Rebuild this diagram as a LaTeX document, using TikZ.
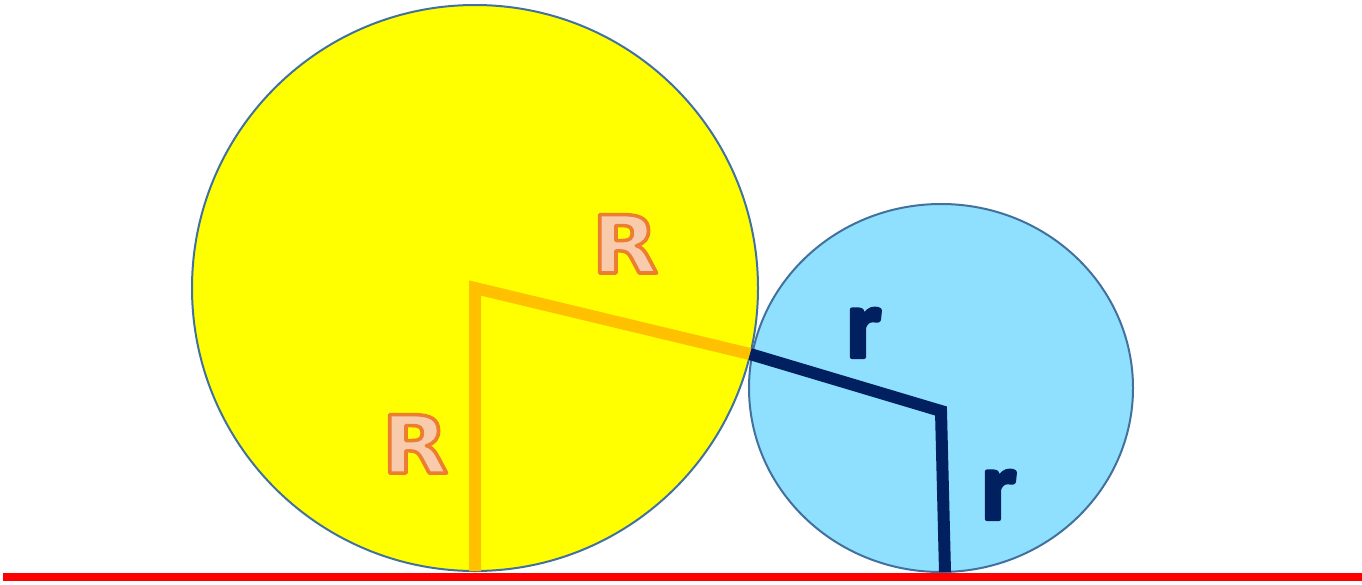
\documentclass[tikz,border=0pt]{standalone}
\usepackage{fontspec}
\setmainfont{Carlito}
\newfontfamily\wideface{DejaVu Sans}
\usetikzlibrary{positioning,calc}

\definecolor{sunyellow}{RGB}{255,255,0}
\definecolor{skyblue}{RGB}{143,223,255}
\definecolor{rimblue}{RGB}{65,113,156}
\definecolor{bigrad}{RGB}{255,192,0}
\definecolor{smallrad}{RGB}{0,32,96}
\definecolor{labelfill}{RGB}{248,203,173}
\definecolor{labeledge}{RGB}{237,125,49}
\definecolor{groundred}{RGB}{255,0,0}

% text drawn with fill and stroke: {stroke rgb}{stroke width}{text}
\newcommand{\strokedtext}[3]{%
  \special{pdf:literal direct 2 Tr #2 w 1 j #1 RG}#3\special{pdf:literal direct 0 Tr}}

\begin{document}
\begin{tikzpicture}[
  x=1pt, y=-1pt,
  disc/.style={draw=rimblue, line width=2pt},
  radline/.style={line width=12pt, line join=miter},
  biglabel/.style={font=\wideface\bfseries\fontsize{80}{80}\selectfont, text=labelfill, anchor=base, inner sep=0pt},
  smalllabel/.style={font=\fontsize{98}{98}\selectfont\bfseries, text=smallrad, anchor=base, inner sep=0pt}
]
\useasboundingbox (0,0) rectangle (1362,584);

\coordinate (bigc) at (475,288);
\coordinate (smallc) at (941,411);
\coordinate (touch) at (750,354);
\coordinate (bigfoot) at (475,571);
\coordinate (smallfoot) at (945,572);
\coordinate (groundl) at (3,577);
\coordinate (groundr) at (1362,577);

% the two discs
\fill[sunyellow] (475,288) ellipse [x radius=283pt, y radius=283pt];
\draw[disc] (475,288) ellipse [x radius=283pt, y radius=283pt];
\fill[skyblue] (941,388) ellipse [x radius=192pt, y radius=184pt];
\draw[disc] (941,388) ellipse [x radius=192pt, y radius=184pt];

% ground
\draw[groundred, line width=8pt] (groundl) -- (groundr);

% radii
\draw[radline, bigrad] (bigfoot) -- (bigc) -- (touch);
\draw[radline, smallrad] (touch) -- (smallc) -- (smallfoot);

\node[biglabel, xscale=1.08] (labR1) at (625,273) {\strokedtext{0.929 0.490 0.192}{3.5}{R}};
\node[biglabel, xscale=1.08] (labR2) at (415,473) {\strokedtext{0.929 0.490 0.192}{3.5}{R}};
\node[smalllabel] (labr1) at (864,357) {\strokedtext{0 0.125 0.376}{4}{r}};
\node[smalllabel] (labr2) at (999,519) {\strokedtext{0 0.125 0.376}{4}{r}};
\end{tikzpicture}
\end{document}
